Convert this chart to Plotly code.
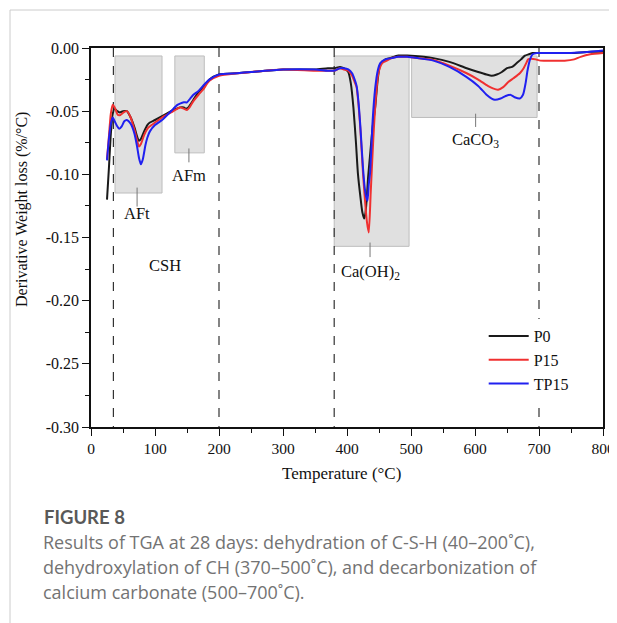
import plotly.graph_objects as go

# ---------------- data ----------------
t_p0 = [25, 28, 31, 34, 37, 41, 45, 50, 56, 62, 68, 72, 75, 78, 83, 88, 92, 100, 111, 125,
        139, 145, 148, 152, 160, 168, 175, 185, 200, 228, 250, 300, 350, 370, 380, 389, 395,
        402, 406, 410, 414, 417, 421, 424, 427, 429, 431, 433, 436, 440, 444, 448, 452, 460,
        467, 480, 494, 520, 535, 560, 587, 605, 618, 626, 634, 642, 650, 658, 665, 672, 678,
        684, 690, 697, 720, 750, 780, 800]
y_p0 = [-0.120, -0.095, -0.068, -0.052, -0.048, -0.050, -0.051, -0.050, -0.050, -0.055,
        -0.063, -0.070, -0.0735, -0.072, -0.066, -0.061, -0.059, -0.057, -0.054, -0.050,
        -0.047, -0.047, -0.048, -0.047, -0.041, -0.035, -0.031, -0.025, -0.021, -0.020,
        -0.019, -0.017, -0.017, -0.016, -0.016, -0.015, -0.016, -0.019, -0.028, -0.047,
        -0.075, -0.099, -0.118, -0.130, -0.135, -0.130, -0.118, -0.102, -0.085, -0.063,
        -0.047, -0.025, -0.013, -0.009, -0.008, -0.006, -0.006, -0.007, -0.008, -0.011,
        -0.016, -0.019, -0.021, -0.022, -0.021, -0.019, -0.016, -0.015, -0.012, -0.009,
        -0.006, -0.005, -0.004, -0.004, -0.004, -0.004, -0.003, -0.003]

t_p15 = [25, 28, 31, 34, 37, 42, 46, 51, 56, 62, 68, 72, 75, 78, 83, 88, 92, 100, 111, 125,
         139, 145, 150, 154, 160, 168, 175, 185, 200, 228, 250, 300, 350, 370, 380, 389, 395,
         402, 408, 412, 415, 418, 421, 425, 428, 431, 434, 437, 441, 445, 449, 455, 462, 470,
         480, 494, 510, 535, 560, 587, 605, 620, 628, 636, 644, 652, 660, 670, 676, 680, 683,
         688, 695, 702, 720, 740, 755, 765, 780, 800]
y_p15 = [-0.088, -0.070, -0.052, -0.045, -0.047, -0.053, -0.053, -0.051, -0.050, -0.055,
         -0.065, -0.073, -0.078, -0.076, -0.069, -0.064, -0.062, -0.059, -0.055, -0.051,
         -0.047, -0.048, -0.049, -0.047, -0.042, -0.037, -0.033, -0.026, -0.022, -0.020,
         -0.019, -0.017, -0.018, -0.018, -0.018, -0.016, -0.017, -0.018, -0.022, -0.027,
         -0.031, -0.045, -0.065, -0.099, -0.120, -0.137, -0.146, -0.115, -0.073, -0.040,
         -0.020, -0.012, -0.010, -0.008, -0.007, -0.007, -0.008, -0.0095, -0.014, -0.020,
         -0.025, -0.030, -0.032, -0.033, -0.031, -0.027, -0.024, -0.020, -0.016, -0.012,
         -0.009, -0.0085, -0.009, -0.010, -0.010, -0.010, -0.009, -0.007, -0.005, -0.004]

t_tp15 = [25, 28, 31, 34, 37, 41, 44, 48, 52, 56, 62, 68, 72, 75, 78, 81, 85, 88, 92, 100,
          111, 125, 135, 139, 145, 150, 155, 160, 168, 175, 185, 200, 228, 250, 300, 350, 370,
          380, 389, 395, 402, 408, 412, 415, 418, 421, 425, 428, 430, 432, 434, 436, 438, 440,
          444, 448, 452, 460, 470, 480, 494, 510, 535, 560, 587, 605, 618, 626, 631, 640, 648,
          655, 662, 670, 675, 679, 682, 686, 690, 697, 720, 750, 780, 800]
y_tp15 = [-0.089, -0.072, -0.060, -0.055, -0.058, -0.062, -0.064, -0.062, -0.058, -0.057,
          -0.060, -0.068, -0.078, -0.087, -0.092, -0.088, -0.077, -0.071, -0.066, -0.061,
          -0.057, -0.050, -0.045, -0.044, -0.043, -0.043, -0.040, -0.037, -0.034, -0.030,
          -0.025, -0.021, -0.020, -0.019, -0.017, -0.017, -0.018, -0.018, -0.016, -0.016,
          -0.017, -0.020, -0.025, -0.030, -0.043, -0.063, -0.095, -0.112, -0.118, -0.121,
          -0.108, -0.099, -0.080, -0.058, -0.032, -0.018, -0.012, -0.009, -0.008, -0.007,
          -0.007, -0.008, -0.010, -0.015, -0.023, -0.030, -0.037, -0.040, -0.041, -0.040,
          -0.038, -0.037, -0.039, -0.040, -0.037, -0.028, -0.018, -0.009, -0.005, -0.004,
          -0.004, -0.004, -0.003, -0.002]

series_names = ["P0", "P15", "TP15"]
series_colors = ["#1a1a1a", "#f03030", "#2020f0"]

x_ticks = [0, 100, 200, 300, 400, 500, 600, 700, 800]
y_ticks = [0.00, -0.05, -0.10, -0.15, -0.20, -0.25, -0.30]
y_ticklabels = ["0.00", "-0.05", "-0.10", "-0.15", "-0.20", "-0.25", "-0.30"]

region_boxes = [  # x0, x1, y0, y1
    (37.5, 111, -0.1148, -0.0063),
    (131, 177, -0.083, -0.0063),
    (380, 497, -0.157, -0.0063),
    (501, 697, -0.055, -0.0063),
]
dashed_x = [35, 200, 380, 700]

# ---------------- figure ----------------
# the page body has an 8px margin, so the figure is sized to fit the window from (8, 8)
OFF = 8
W, H = 617 - OFF, 623 - OFF
L, R, T, B = 91 - OFF, 14, 48 - OFF, 196
serif = "Liberation Serif, Times New Roman, serif"

fig = go.Figure()
for t, y, n, c in zip([t_p0, t_p15, t_tp15], [y_p0, y_p15, y_tp15], series_names, series_colors):
    fig.add_trace(go.Scatter(x=t, y=y, mode="lines", name=n,
                             line=dict(color=c, width=2, shape="spline", smoothing=0.6)))

shapes = []
for x0, x1, y0, y1 in region_boxes:
    shapes.append(dict(type="rect", xref="x", yref="y", x0=x0, x1=x1, y0=y0, y1=y1,
                       fillcolor="#e0e0e0", line=dict(color="#bdbdbd", width=1), layer="below"))
for xv in dashed_x:
    shapes.append(dict(type="line", xref="x", yref="y", x0=xv, x1=xv, y0=0, y1=-0.30,
                       line=dict(color="#333333", width=1.2, dash="dash"), layer="below"))

# label leader lines
leaders = [(72, -0.1105, -0.1255), (153, -0.0795, -0.0905), (436, -0.154, -0.1655), (601, -0.052, -0.0625)]
for xv, ya, yb in leaders:
    shapes.append(dict(type="line", xref="x", yref="y", x0=xv, x1=xv, y0=ya, y1=yb,
                       line=dict(color="#777777", width=1)))


def px(xs):
    """screen x pixel -> paper x"""
    return (xs - OFF - L) / (W - L - R)


def py(ys):
    """screen y pixel -> paper y"""
    return (H - B - (ys - OFF)) / (H - T - B)


# page border lines
shapes.append(dict(type="line", xref="paper", yref="paper", x0=px(10), x1=px(617), y0=py(10), y1=py(10),
                   line=dict(color="#cccccc", width=1)))
shapes.append(dict(type="line", xref="paper", yref="paper", x0=px(10), x1=px(10), y0=py(10), y1=py(623),
                   line=dict(color="#cccccc", width=1)))

ann_font = dict(family=serif, size=16.5, color="#111111")
annotations = [
    dict(x=72.6, y=-0.1307, text="AFt"),
    dict(x=153, y=-0.1006, text="AFm"),
    dict(x=115.5, y=-0.172, text="CSH"),
    dict(x=436, y=-0.177, text="Ca(OH)<sub>2</sub>"),
    dict(x=601, y=-0.073, text="CaCO<sub>3</sub>"),
]
annotations = [dict(a, xref="x", yref="y", showarrow=False, font=ann_font) for a in annotations]

# axis titles
annotations.append(dict(xref="paper", yref="paper", x=px(22), y=py(210), xanchor="center", yanchor="middle",
                        text="Derivative Weight loss (%/°C)", textangle=-90, showarrow=False,
                        font=dict(family=serif, size=16, color="#111111")))
annotations.append(dict(xref="paper", yref="paper", x=px(341), y=py(473), xanchor="center", yanchor="middle",
                        text="Temperature (°C)", showarrow=False,
                        font=dict(family=serif, size=17, color="#111111")))

# caption
annotations.append(dict(xref="paper", yref="paper", x=px(42), y=py(517), xanchor="left", yanchor="middle",
                        text="<b>FIGURE 8</b>", showarrow=False,
                        font=dict(family="Lato, Open Sans, sans-serif", size=18.5, color="#595959")))
caption_lines = [
    "Results of TGA at 28 days: dehydration of C-S-H (40–200˚C),",
    "dehydroxylation of CH (370–500˚C), and decarbonization of",
    "calcium carbonate (500–700˚C).",
]
for i, line in enumerate(caption_lines):
    annotations.append(dict(xref="paper", yref="paper", x=px(41), y=py(542 + 25 * i), xanchor="left",
                            yanchor="middle", text=line, showarrow=False,
                            font=dict(family="Open Sans, sans-serif", size=18, color="#737373")))

fig.update_layout(
    width=W, height=H,
    margin=dict(l=L, r=R, t=T, b=B, autoexpand=False),
    paper_bgcolor="white", plot_bgcolor="white",
    font=dict(family=serif, size=15, color="#111111"),
    shapes=shapes, annotations=annotations,
    showlegend=True,
    legend=dict(x=0.767, y=0.285, xanchor="left", yanchor="top", bgcolor="white",
                font=dict(family=serif, size=16, color="#111111"), tracegroupgap=0,
                itemwidth=40),
)
fig.update_xaxes(range=[0, 800], tickvals=x_ticks, ticks="outside", ticklen=7, tickwidth=1.2,
                 tickcolor="#111111", automargin=False,
                 showline=True, linecolor="#111111", linewidth=1.5, mirror=True, showgrid=False,
                 zeroline=False, tickfont=dict(family=serif, size=15.5),
                 minor=dict(tickvals=[50, 150, 250, 350, 450, 550, 650, 750], ticks="outside", ticklen=4,
                            tickcolor="#111111", tickwidth=1.2))
fig.update_yaxes(range=[-0.30, 0.0], tickvals=y_ticks, ticktext=y_ticklabels, ticks="outside", ticklen=7,
                 tickwidth=1.2, tickcolor="#111111", automargin=False,
                 showline=True, linecolor="#111111", linewidth=1.5, mirror=True,
                 showgrid=False, zeroline=False, tickfont=dict(family=serif, size=16),
                 minor=dict(tickvals=[-0.025, -0.075, -0.125, -0.175, -0.225, -0.275], ticks="outside",
                            ticklen=4, tickcolor="#111111", tickwidth=1.2))

fig.write_html("out.html")
